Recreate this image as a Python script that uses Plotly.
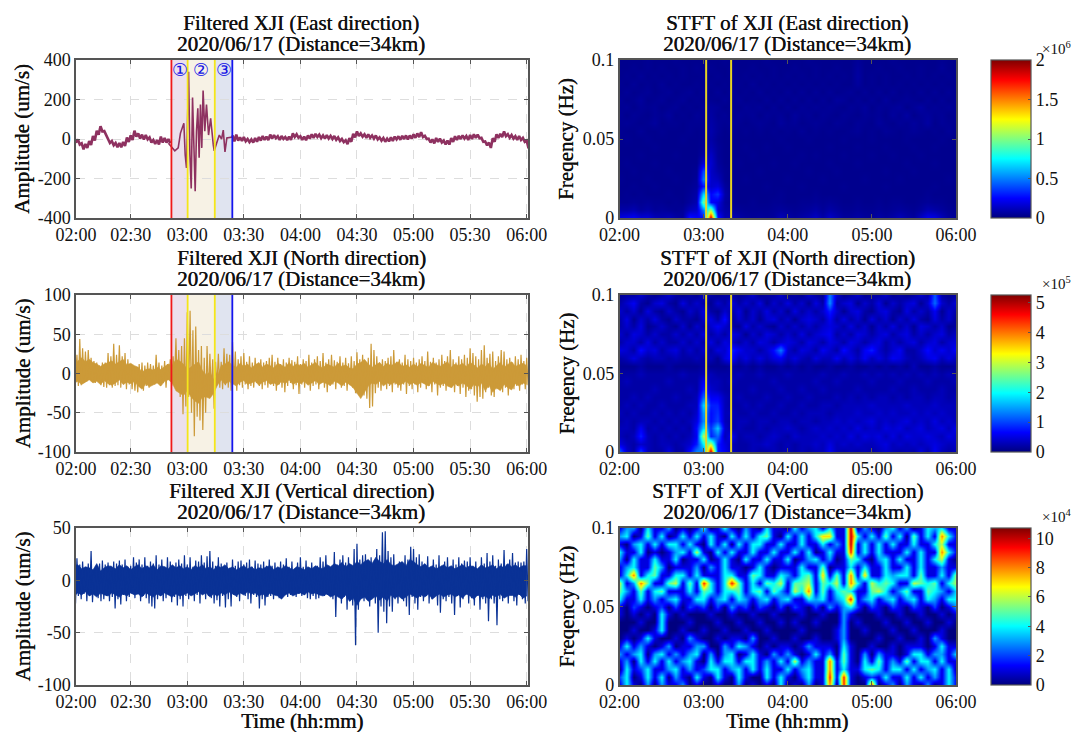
import plotly.graph_objects as go

W, H = 1077, 732
FONT = "Liberation Serif"

# ---------- tick labels ----------
left_tick_vals = [1, 30, 60, 90, 120, 150, 180, 210, 240]
left_tick_text = ["02:00", "02:30", "03:00", "03:30", "04:00", "04:30", "05:00", "05:30", "06:00"]
right_tick_vals = [0, 60, 120, 180, 240]
right_tick_text = ["02:00", "03:00", "04:00", "05:00", "06:00"]
freq_ticks = [0, 0.05, 0.1]
freq_text = ["0", "0.05", "0.1"]

# ---------- event boundaries (minutes after 02:00) ----------
zone_edges = [51.6, 60.2, 74.6, 83.9]
zone_line_colors = ["#f01818", "#f5e61a", "#f5e61a", "#1414ee"]
zone_fill_colors = ["rgba(135,60,135,0.16)", "rgba(200,160,70,0.14)", "rgba(60,90,160,0.16)"]
zone_labels = ["①", "②", "③"]
stft_marks = [61.8, 79.6]

# ---------- East waveform ----------
east_a_hi = [10,-2,-22,-25,-10,15,42,65,40,0,-10,-20,-20,-15,8,18,42,28,22,20,8,-5,-5,12,5,0]
east_a_lo = [-18,-28,-52,-45,-30,-8,22,38,18,-20,-32,-42,-42,-35,-15,-5,12,2,-2,-2,-18,-25,-28,-18,-18,-22]
event_t = [50,51.6,53.4,55.2,56.4,58.2,58.9,59.6,60.7,61.4,62.1,62.8,63.5,64.2,64.9,65.6,66.3,67,67.7,68.4,69.3,70.2,71.3,72.4,73.8,74.3,75.6,77,78.2,79.1,80,81,83.9,84]
event_y = [-22,-40,-60,-45,30,80,-80,-147,340,-80,-250,210,-60,-265,40,155,-95,175,-45,245,40,175,20,105,-30,-60,-20,20,0,45,-65,5,10,18]
east_b_hi = [18,22,8,10,0,-2,5,10,15,12,22,20,14,15,10,12,28,24,14,12,18,24,26,22,18,20,16,15,8,0,-6,4,26,38,28,24,24,18,18,8,5,2,8,12,14,16,18,18,24,28,35,16,2,-2,5,2,-8,-8,4,14,16,18,15,20,24,22,6,-12,-18,4,24,26,38,24,20,14,15,6,-8]
east_b_lo = [-12,-8,-10,-12,-16,-18,-14,-8,-5,-5,2,4,-4,0,-6,-4,10,6,-4,-6,2,6,10,4,2,2,0,-4,-10,-16,-26,-14,8,15,12,6,6,2,-2,-8,-14,-12,-10,-2,-4,0,-2,2,6,10,10,0,-18,-22,-15,-18,-28,-28,-15,-5,0,2,-5,0,6,4,-14,-32,-45,-14,6,10,14,6,2,-5,-5,-14,-48]

# ---------- North waveform (1.5 min spacing) ----------
north_hi = [14,24,44,32,28,30,20,16,14,10,
            14,14,26,22,38,24,36,22,26,18,
            10,6,4,12,14,10,14,12,10,24,
            14,10,16,12,18,22,
            45,30,35,45,78,80,55,60,30,35,20,35,25,18,15,25,15,32,25,24,40,
            28,18,22,26,15,22,14,20,12,18,
            14,16,20,24,15,20,12,18,14,20,
            17,15,22,12,18,16,24,14,18,22,
            16,26,14,18,24,17,15,22,14,20,
            13,22,16,27,18,24,15,20,38,30,
            22,14,18,16,20,22,30,15,18,14,
            24,18,16,20,14,18,22,16,28,15,
            20,14,18,24,16,22,30,18,14,22,
            18,24,20,32,26,22,18,30,36,20,
            25,28,16,22,30,28,18,20,14,22,
            18,24,16,20]
north_lo = [-10,-16,-15,-12,-10,-8,-10,-12,-6,-15,
            -17,-18,-15,-18,-16,-15,-18,-14,-20,-14,
            -20,-22,-24,-18,-22,-16,-18,-12,-14,-10,
            -16,-12,-18,-8,-16,-12,
            -20,-30,-52,-42,-30,-50,-80,-55,-60,-72,-50,-30,-25,-45,-15,-18,-20,-15,-18,-22,-12,
            -22,-15,-18,-14,-20,-16,-18,-12,-16,-20,
            -15,-18,-12,-16,-22,-14,-18,-24,-16,-12,
            -20,-15,-26,-14,-18,-12,-22,-16,-14,-20,
            -12,-18,-24,-16,-14,-20,-12,-18,-16,-22,
            -15,-18,-25,-20,-16,-28,-32,-44,-42,-25,
            -18,-22,-14,-20,-16,-24,-14,-18,-22,-14,
            -26,-16,-20,-14,-24,-18,-12,-20,-16,-24,
            -14,-28,-18,-16,-22,-15,-18,-24,-16,-26,
            -18,-30,-22,-20,-28,-36,-30,-32,-24,-18,
            -28,-30,-20,-16,-24,-18,-28,-14,-20,-16,
            -22,-14,-20,-15]
# dense body of the trace, read every 2 min
core_t = [0,2,4,6,8,10,12,14,16,18,20,22,24,26,28,30,32,34,36,38,40,42,44,46,48,50,52,54,56,58,60,62,64,66,68,70,72,74,76,78,80,82,84,86,88,90,92,94,96,98,100,102,104,106,108,110,112,114,116,118,120,122,124,126,128,130,132,134,136,138,140,142,144,146,148,150,152,154,156,158,160,162,164,166,168,170,172,174,176,178,180,182,184,186,188,190,192,194,196,198,200,202,204,206,208,210,212,214,216,218,220,222,224,226,228,230,232,234,236,238,240]
north_core_hi = [8,16,20,15,18,14,12,9,12,14,
                 16,12,15,18,11,13,10,8,2,5,
                 6,4,8,5,9,12,10,18,16,12,
                 5,8,12,15,4,-2,2,-8,-3,10,
                 12,15,10,8,13,9,12,7,11,14,
                 8,12,10,7,13,11,8,14,9,12,
                 10,13,8,11,14,9,7,12,10,8,
                 13,9,11,7,6,12,14,18,12,8,
                 11,14,9,13,10,12,15,9,11,8,
                 12,9,13,10,8,14,11,9,12,15,
                 8,12,10,13,9,14,11,7,12,9,
                 13,5,10,14,8,12,15,9,11,13,
                 10]
north_core_lo = [-12,-10,-14,-11,-8,-12,-10,-14,-9,-13,
                 -15,-12,-8,-14,-11,-13,-10,-16,-20,-13,
                 -17,-14,-12,-16,-10,-8,-12,-22,-25,-28,
                 -22,-30,-35,-38,-30,-30,-32,-25,-15,-8,
                 -14,-10,-13,-16,-11,-9,-14,-12,-10,-15,
                 -11,-9,-14,-12,-15,-10,-13,-8,-14,-11,
                 -13,-10,-15,-12,-9,-14,-11,-13,-15,-10,
                 -12,-16,-11,-14,-18,-25,-32,-24,-16,-12,
                 -14,-10,-16,-12,-14,-11,-15,-13,-10,-14,
                 -12,-15,-11,-14,-16,-10,-13,-15,-12,-16,
                 -18,-13,-16,-12,-15,-20,-14,-17,-12,-22,
                 -15,-24,-18,-22,-14,-18,-21,-13,-16,-12,
                 -14]

# ---------- Vertical waveform (1.5 min spacing) ----------
vert_hi = [20,21,15,18,12,16,28,10,14,16,
           19,15,17,14,18,16,19,15,20,13,
           14,22,17,20,15,22,14,18,16,24,
           15,20,13,22,18,14,17,20,16,24,
           15,22,13,19,18,24,17,23,28,18,
           14,22,16,13,17,12,20,14,18,19,
           15,17,20,13,19,16,15,18,14,20,
           14,17,12,18,15,21,13,18,10,17,
           22,13,19,12,17,10,14,22,18,24,
           14,12,27,15,20,24,17,22,12,30,
           35,20,24,25,18,22,16,30,24,46,
           47,28,22,25,14,18,14,24,20,32,
           30,22,25,18,15,23,13,20,15,24,
           14,18,22,12,20,15,22,16,19,18,
           22,14,18,12,22,16,26,18,24,14,
           20,16,29,15,20,26,17,18,17,18,
           30]
vert_lo = [-22,-15,-18,-13,-20,-15,-21,-14,-17,-20,
           -18,-15,-20,-16,-27,-18,-23,-14,-20,-16,
           -13,-17,-12,-20,-15,-17,-22,-25,-27,-18,
           -15,-20,-17,-14,-21,-16,-24,-18,-25,-15,
           -18,-12,-20,-14,-22,-12,-18,-15,-17,-22,
           -19,-25,-15,-26,-18,-25,-14,-16,-20,-13,
           -15,-18,-22,-14,-16,-27,-18,-24,-16,-15,
           -18,-14,-17,-15,-14,-16,-14,-12,-16,-13,
           -15,-14,-17,-18,-15,-18,-17,-14,-15,-14,
           -15,-18,-35,-14,-22,-16,-28,-20,-24,-62,
           -28,-15,-20,-18,-25,-15,-22,-50,-25,-30,
           -41,-25,-30,-18,-22,-15,-20,-25,-33,-16,
           -22,-28,-16,-20,-15,-22,-18,-14,-24,-31,
           -18,-20,-16,-22,-33,-15,-26,-18,-14,-22,
           -17,-24,-15,-28,-18,-22,-39,-18,-22,-43,
           -18,-20,-16,-22,-15,-20,-24,-14,-18,-22,
           -20]
vert_core_hi = [14,15,11,13,12,10,16,9,12,14,
                13,11,15,12,14,10,13,15,11,14,
                12,15,10,14,13,11,15,12,14,11,
                13,10,14,12,15,11,13,10,14,12,
                15,11,13,10,12,14,11,13,10,12,
                11,13,14,10,13,11,14,12,10,13,
                12,10,13,11,14,12,11,15,13,16,
                14,17,13,16,14,18,15,18,20,16,
                22,18,16,20,15,14,16,18,14,20,
                18,15,13,16,12,14,11,13,15,12,
                14,11,13,15,12,14,13,11,15,12,
                13,15,11,14,12,16,13,15,12,14,
                14]
vert_core_lo = [-15,-12,-14,-11,-15,-13,-16,-12,-14,-15,
                -12,-14,-16,-13,-15,-12,-14,-13,-16,-12,
                -14,-16,-13,-15,-12,-14,-16,-13,-15,-14,
                -12,-15,-13,-11,-14,-12,-16,-13,-15,-12,
                -14,-11,-13,-15,-12,-14,-11,-13,-12,-15,
                -13,-16,-12,-14,-15,-18,-14,-12,-15,-13,
                -12,-14,-11,-13,-12,-14,-15,-13,-16,-14,
                -16,-18,-14,-20,-17,-24,-18,-16,-20,-18,
                -15,-19,-16,-20,-14,-17,-15,-18,-16,-13,
                -15,-17,-14,-16,-13,-18,-15,-13,-16,-14,
                -13,-16,-14,-17,-13,-15,-18,-14,-16,-15,
                -18,-14,-16,-13,-17,-15,-14,-16,-13,-17,
                -15]

# ---------- STFT grids: rows from 0 Hz to 0.1 Hz, columns every 5 min ----------
stft_freq = [0,0.005,0.01,0.015,0.02,0.025,0.03,0.035,0.04,0.045,0.05,0.055,0.06,0.065,0.07,0.075,0.08,0.085,0.09,0.095,0.1]
stft_time = [0,5,10,15,20,25,30,35,40,45,50,55,60,65,70,75,80,85,90,95,100,105,110,115,120,125,130,135,140,145,150,155,160,165,170,175,180,185,190,195,200,205,210,215,220,225,230,235,240]

# East, in units of 1e4
stft_east = [
 [20,22,24,18,18,12,10,12,8,6, 30,25,25,190,30,10,12,8,6,5, 6,5,6,12,8,6,8,10,14,8, 15,10,6,6,8,6,5,8,6,8, 12,8,6,14,22,20,12,6,5],
 [8,8,10,6,8,5,6,5,4,5, 12,15,50,110,15,8,6,5,4,4, 4,4,5,6,5,4,5,6,8,5, 8,6,4,4,5,4,4,5,4,5, 6,5,4,6,10,8,6,4,4],
 [4,4,5,4,5,4,4,3,4,3, 6,10,100,25,20,6,4,3,3,4, 3,3,4,4,3,3,4,4,5,4, 5,4,3,3,4,3,3,4,3,4, 4,3,3,4,5,4,4,3,3],
 [3,4,3,4,3,3,3,4,3,3, 5,8,70,25,35,8,4,3,3,3, 3,3,3,4,3,3,3,3,4,3, 3,3,3,3,3,3,3,3,3,3, 3,3,3,3,4,3,3,3,3],
 [3,3,4,3,3,4,3,3,3,3, 4,6,30,15,18,6,3,3,3,3, 3,4,3,3,3,3,4,3,3,3, 3,3,4,3,3,3,3,3,4,3, 3,3,3,3,3,4,3,3,3],
 [4,3,3,3,4,3,3,3,4,3, 3,5,50,15,12,4,3,3,4,3, 3,3,3,3,4,3,3,3,3,4, 3,3,3,3,3,4,3,3,3,3, 4,3,3,3,3,3,3,4,3],
 [3,3,4,3,3,3,3,4,3,3, 3,4,40,14,8,4,3,3,3,3, 4,3,3,3,3,3,3,4,3,3, 3,4,3,3,3,3,3,3,4,3, 3,3,4,3,3,3,3,3,3],
 [3,4,3,3,3,4,3,3,3,3, 3,3,18,16,6,3,3,4,3,3, 3,3,4,3,3,4,3,3,3,3, 4,3,3,3,4,3,3,3,3,3, 3,4,3,3,3,4,3,3,3],
 [3,3,3,4,3,3,3,3,4,3, 3,3,8,14,5,3,3,3,3,4, 3,3,3,3,3,3,4,3,4,3, 3,3,4,3,3,3,4,3,3,4, 3,3,3,4,3,3,3,3,4],
 [3,3,3,3,3,4,3,3,3,3, 3,3,5,10,5,3,3,3,4,3, 3,4,3,3,4,3,3,3,3,3, 4,3,3,3,4,3,3,3,4,3, 3,3,4,3,3,4,3,3,3],
 [3,4,3,3,4,3,3,3,3,4, 3,3,4,8,4,3,3,3,3,3, 3,3,3,4,3,3,3,4,3,3, 3,3,4,3,3,3,4,3,3,3, 3,4,3,3,3,3,4,3,3],
 [4,3,3,5,3,3,4,3,3,3, 4,3,4,9,5,3,4,3,4,3, 4,3,4,3,4,3,5,3,4,3, 4,3,3,4,5,3,4,3,5,4, 3,4,5,4,3,4,3,5,3],
 [4,5,4,3,4,6,3,4,4,3, 4,4,4,8,5,4,5,4,3,4, 5,4,3,6,4,5,3,4,5,4, 3,5,4,3,5,4,3,6,4,3, 5,4,6,4,7,3,5,4,4],
 [5,3,5,4,3,5,4,6,3,4, 3,5,4,7,4,5,3,5,4,5, 3,5,4,5,3,6,4,5,3,5, 4,3,5,4,3,5,4,5,3,6, 4,7,3,5,6,4,5,3,5],
 [4,5,3,5,4,5,3,4,5,3, 4,3,5,6,5,3,4,3,5,4, 5,3,5,3,5,3,5,4,5,4, 5,4,3,5,4,6,3,5,4,5, 6,3,5,7,4,5,4,5,4],
 [5,3,4,6,3,4,5,3,4,5, 3,4,3,4,3,5,3,5,3,4, 3,5,3,5,3,5,3,5,3,5, 3,6,5,3,5,3,5,3,6,3, 4,5,4,3,5,3,5,3,5],
 [3,5,3,4,5,3,4,5,3,4, 5,3,5,3,5,3,5,3,4,3, 5,3,4,3,5,3,5,3,5,3, 5,3,4,5,3,5,3,5,3,5, 3,4,3,5,3,5,3,5,3],
 [4,3,5,3,4,3,5,3,4,3, 3,4,3,4,3,4,3,4,3,5, 3,4,3,4,3,4,3,4,3,4, 3,4,3,3,6,3,4,3,4,3, 4,3,4,3,4,3,4,3,4],
 [3,4,3,5,3,4,3,4,3,4, 3,3,4,3,4,3,4,3,4,3, 4,3,4,3,4,3,4,3,4,3, 4,3,4,3,7,3,4,3,4,3, 3,4,3,4,3,4,3,4,3],
 [3,3,4,3,4,3,4,3,3,4, 3,4,3,4,3,3,4,3,3,4, 3,3,4,3,3,4,3,3,4,3, 3,4,3,3,6,3,3,4,3,3, 4,3,3,4,3,3,5,3,3],
 [3,3,3,3,4,3,3,3,4,3, 3,3,3,3,3,4,3,3,3,3, 3,4,3,3,3,3,3,4,3,3, 3,3,3,3,5,3,3,3,3,4, 3,3,3,3,3,3,4,3,3],
]

# North, in units of 1e4
stft_north = [
 [12,4,2,10,3,2,2,5,2,2, 7,14,12,50,8,6,3,2,2,3, 2,2,3,2,3,2,3,2,3,3, 6,3,2,3,2,3,2,3,4,3, 2,3,2,5,2,6,3,2,3],
 [5,3,2,4,3,2,3,3,2,3, 4,8,20,30,8,5,3,2,2,3, 3,4,3,2,3,2,3,3,4,3, 5,3,4,3,4,3,3,4,5,3, 4,3,4,3,4,5,4,3,4],
 [3,2,3,8,3,2,3,2,3,2, 3,6,30,8,12,3,6,2,3,3, 2,3,4,3,2,4,3,3,3,4, 3,4,3,5,3,5,4,5,3,5, 3,5,4,4,5,4,3,5,4],
 [3,3,2,6,2,3,2,3,2,3, 2,7,18,9,17,4,2,3,2,2, 3,2,3,3,4,3,2,3,4,3, 4,3,4,3,5,3,4,3,5,4, 5,3,4,5,3,4,5,3,6],
 [2,3,2,3,3,2,3,2,3,2, 3,5,14,7,10,3,2,3,3,2, 3,3,2,3,3,2,3,3,2,3, 3,4,3,4,3,4,5,3,4,3, 4,5,3,4,3,5,3,4,3],
 [3,2,3,2,2,3,2,3,2,3, 2,4,15,7,9,3,3,2,2,3, 2,2,3,2,2,3,2,3,3,3, 2,3,3,3,4,3,3,4,3,4, 3,3,4,3,4,3,4,3,3],
 [2,3,2,3,2,2,3,2,2,2, 3,3,18,8,8,3,2,2,3,2, 3,2,2,3,2,2,3,2,2,3, 3,2,3,3,3,3,4,3,3,3, 3,4,3,3,3,4,3,3,3],
 [2,2,3,2,3,2,2,2,3,2, 2,3,12,6,6,3,2,3,2,2, 2,3,2,2,3,2,2,3,2,2, 2,3,2,3,2,3,2,3,3,2, 3,2,3,3,2,3,3,2,3],
 [2,2,2,2,2,3,2,2,2,2, 3,2,8,4,3,2,2,2,2,3, 2,2,2,3,2,2,3,2,2,3, 2,2,2,2,3,2,2,2,2,3, 2,2,3,2,2,2,3,2,2],
 [2,3,2,2,2,2,2,3,2,2, 2,2,6,3,3,2,3,2,2,2, 2,2,3,2,2,2,2,2,3,2, 2,3,2,2,2,2,3,2,2,2, 3,2,2,2,3,2,2,2,3],
 [2,2,2,3,2,2,2,2,2,3, 2,2,3,3,2,2,2,3,2,2, 3,2,2,2,3,2,2,2,2,3, 2,2,3,2,2,3,2,3,2,3, 2,3,2,3,2,3,2,3,2],
 [1,1,1,2,1,1,1,2,1,1, 1,1,2,1,1,1,2,1,2,1, 2,1,1,2,1,2,1,2,1,1, 2,1,1,2,1,1,2,1,2,1, 2,1,3,1,1,2,1,1,2],
 [2,3,5,3,2,3,3,2,3,2, 2,3,2,3,1,5,7,3,5,3, 5,3,5,6,3,5,3,2,5,3, 3,6,3,5,3,6,3,5,3,6, 5,3,2,3,5,6,3,5,3],
 [5,4,2,7,4,5,2,4,5,2, 4,2,4,2,5,4,8,6,4,4, 2,4,7,13,4,2,5,4,2,6, 4,2,7,4,2,6,8,4,2,4, 6,2,2,4,7,4,6,4,7],
 [2,4,4,2,5,2,4,2,2,4, 2,4,2,5,2,5,4,2,4,2, 5,4,2,4,5,4,2,5,4,2, 5,4,2,5,4,2,4,5,2,4, 2,4,5,2,4,5,2,4,5],
 [4,2,5,4,2,4,2,2,4,2, 4,2,5,2,4,2,5,4,1,4, 2,5,4,2,4,2,5,2,4,5, 6,2,4,2,5,4,2,4,5,2, 4,5,2,4,2,4,5,2,4],
 [2,4,2,5,1,2,4,2,1,4, 1,4,2,4,6,4,2,1,5,2, 4,2,1,4,2,4,2,4,2,4, 5,4,2,5,2,4,1,4,2,5, 2,4,1,5,4,2,4,1,2],
 [2,5,1,4,2,5,2,1,4,2, 2,1,4,5,2,7,1,4,2,4, 1,4,5,2,4,1,4,5,4,2, 6,2,5,2,4,1,5,2,4,1, 4,2,5,2,1,5,2,4,1],
 [4,2,4,1,5,2,1,4,2,1, 4,2,5,2,1,4,2,5,1,4, 2,5,2,4,1,5,2,4,2,4, 8,4,1,4,5,2,1,4,5,2, 1,5,2,4,2,6,1,4,2],
 [2,4,6,2,1,4,5,2,1,5, 2,4,2,1,4,2,5,2,4,2, 5,1,4,2,5,2,4,1,5,2, 14,2,4,5,1,4,2,5,1,4, 2,4,5,1,4,12,4,2,5],
 [1,2,2,4,2,1,2,4,2,1, 2,1,4,2,1,2,2,1,2,4, 1,2,2,4,1,2,1,4,2,1, 13,4,1,2,4,1,2,2,4,1, 2,1,2,4,2,11,2,1,2],
]

# Vertical, in units of 1e4
stft_vert = [
 [1,4,1,0,3,0,3,1,1,3, 0,1,0,0,1,0,0,3,0,1, 0,1,0,4,0,1,0,3,0,1, 8,0,9,1,0,0,9,0,1,3, 0,3,1,0,3,0,1,4,1],
 [2,4,0,1,4,1,4,0,3,1, 0,4,1,0,4,1,0,4,1,0, 0,4,1,4,1,0,2,4,1,1, 9,1,9,1,0,1,2,1,4,1, 1,4,1,4,1,3,1,4,1],
 [0,4,1,2,4,1,1,3,4,1, 3,1,2,4,4,1,3,4,1,4, 1,4,1,1,4,1,3,4,1,1, 8,1,4,1,1,4,5,4,1,4, 4,1,4,1,3,4,1,4,0],
 [1,3,0,4,1,4,1,4,1,3, 4,1,0,4,1,4,4,1,4,4, 1,3,1,4,1,6,1,3,1,1, 8,1,5,1,0,4,1,5,1,3, 1,5,1,4,4,1,4,1,1],
 [3,1,3,4,0,3,4,1,3,1, 3,4,0,3,0,3,4,0,1,4, 1,0,3,1,3,1,0,1,4,1, 3,0,5,1,0,3,0,3,1,1, 0,1,4,4,1,3,3,1,4],
 [1,4,1,3,1,0,1,3,0,1, 1,3,3,0,0,3,1,4,3,1, 0,1,0,1,1,0,1,3,1,1, 1,0,4,1,0,0,1,0,0,1, 0,1,1,1,0,1,4,1,1],
 [0,1,0,1,4,1,0,0,1,0, 3,1,0,0,1,0,1,1,0,3, 0,0,1,0,0,1,0,0,1,0, 0,1,3,0,0,0,0,1,0,0, 1,0,0,1,0,3,1,0,0],
 [0,0,1,0,0,1,4,0,0,1, 0,0,1,0,0,1,0,0,1,0, 0,1,0,0,0,0,1,0,0,0, 0,1,3,0,0,1,0,0,0,1, 0,0,1,0,0,0,1,0,0],
 [0,0,0,1,0,0,4,0,0,0, 1,0,0,0,1,0,0,1,0,0, 1,0,0,1,0,1,0,0,1,0, 0,0,3,0,1,0,0,0,1,0, 0,1,0,0,1,0,0,1,0],
 [1,0,1,0,1,0,4,1,0,1, 0,0,0,1,0,0,1,0,0,1, 0,0,1,0,0,0,1,0,0,1, 0,0,3,1,0,0,0,1,0,0, 1,0,0,1,0,0,1,0,1],
 [1,0,2,1,0,1,2,0,2,0, 2,1,2,0,2,0,3,1,2,0, 2,1,0,2,0,2,1,0,2,0, 3,1,3,4,2,0,2,1,0,2, 1,0,2,1,0,2,0,1,3],
 [4,1,1,4,1,3,1,3,4,1, 1,4,4,1,3,4,1,4,3,1, 3,4,1,3,4,1,1,4,3,4, 1,3,4,9,1,3,4,1,3,4, 1,3,4,1,4,3,1,4,4],
 [5,3,1,5,1,4,5,1,1,1, 4,1,5,4,1,4,4,5,1,4, 5,1,5,3,1,6,4,8,1,5, 1,4,5,4,1,1,5,6,4,1, 3,5,1,1,5,4,3,1,4],
 [6,1,3,8,5,1,1,5,6,1, 5,1,9,4,1,4,9,5,1,4, 1,5,4,6,1,5,5,6,1,5, 4,6,1,8,4,1,6,4,5,4, 1,1,6,5,4,5,1,4,6],
 [1,4,8,1,4,5,1,1,4,4, 1,4,1,1,1,4,4,1,1,5, 4,1,1,4,3,1,4,5,1,7, 1,5,1,8,1,7,1,1,4,3, 4,4,1,5,1,1,4,1,6],
 [1,3,4,1,1,5,3,0,1,1, 1,3,0,3,1,4,1,1,0,1, 4,1,0,1,1,1,4,1,1,5, 0,1,1,4,1,4,1,1,4,1, 1,4,1,4,1,1,3,1,1],
 [3,0,4,1,1,4,1,1,4,0, 1,1,4,0,1,4,1,0,4,1, 1,4,1,1,4,0,1,3,4,1, 3,0,1,5,4,1,0,3,4,1, 4,1,1,4,1,4,6,1,0],
 [4,1,1,4,0,1,0,1,3,4, 1,6,1,0,4,1,4,1,1,4, 1,1,4,1,1,4,1,4,0,1, 4,1,1,9,1,4,1,4,1,1, 1,4,1,4,1,1,8,4,1],
 [1,0,3,4,1,4,1,4,4,1, 4,1,0,4,1,4,0,4,1,4, 4,1,1,4,1,1,4,1,1,4, 1,3,1,10,1,4,1,4,1,4, 1,1,4,1,1,4,6,1,1],
 [3,4,0,1,5,1,4,0,1,4, 1,4,1,4,1,0,4,1,4,1, 4,5,1,0,4,1,4,1,4,7, 7,1,1,10,4,1,4,1,5,1, 4,0,5,1,4,1,8,4,1],
 [1,3,3,0,4,1,1,3,0,1, 0,1,4,0,1,4,1,0,3,1, 0,4,1,1,0,4,1,3,4,1, 4,1,1,10,0,3,1,0,3,4, 1,3,0,1,4,3,4,1,1],
]

# ---------- colour bars ----------
bar_east = dict(zmax=200, vals=[0,50,100,150,200], text=["0","0.5","1","1.5","2"], exp="6")
bar_north = dict(zmax=52.5, vals=[0,10,20,30,40,50], text=["0","1","2","3","4","5"], exp="5")
bar_vert = dict(zmax=10.7, vals=[0,2,4,6,8,10], text=["0","2","4","6","8","10"], exp="4")

titles_left = ["Filtered XJI (East direction)", "Filtered XJI (North direction)", "Filtered XJI (Vertical direction)"]
titles_right = ["STFT of XJI (East direction)", "STFT of XJI (North direction)", "STFT of XJI (Vertical direction)"]
subtitle = "2020/06/17 (Distance=34km)"

jet = [[0,"#00007f"],[0.125,"#0000ff"],[0.375,"#00ffff"],[0.625,"#ffff00"],[0.875,"#ff0000"],[1,"#7f0000"]]


def zigzag(start, step, hi, lo):
    xs, ys = [], []
    for i, (a, b) in enumerate(zip(hi, lo)):
        xs += [start + i * step, start + (i + 0.5) * step]
        ys += [a, b]
    return xs, ys


xa, ya = zigzag(0, 2, east_a_hi, east_a_lo)
xb, yb = zigzag(84, 2, east_b_hi, east_b_lo)
north_x, north_y = zigzag(0, 1.5, north_hi, north_lo)
vert_x, vert_y = zigzag(0, 1.5, vert_hi, vert_lo)

rows_px = [(60, 218), (295, 452), (528, 685)]
left_px = (76, 528)
right_px = (619.5, 956)
bar_px = 991
bar_w = 40
AXC = "#555555"
TXT = "#111111"
HEAVY = dict(family=FONT, size=21, color=TXT, shadow="0.4px 0 0 #111111")

fig = go.Figure()
fig.update_layout(width=W, height=H, margin=dict(l=0, r=0, t=0, b=0, autoexpand=False), paper_bgcolor="white",
                  plot_bgcolor="white", showlegend=False, font=dict(family=FONT, size=18, color=TXT))

# each panel: list of (x, y, width) line parts
series = [([(xa, ya, 2.6), (event_t, event_y, 1.6), (xb, yb, 2.6)], "#8e3160", [-400, 400], [-400,-200,0,200,400], None, None),
          ([(north_x, north_y, 1.2)], "#cc9a38", [-100, 100], [-100,-50,0,50,100], north_core_hi, north_core_lo),
          ([(vert_x, vert_y, 1.2)], "#0a3296", [-100, 50], [-100,-50,0,50], vert_core_hi, vert_core_lo)]
stfts = [(stft_east, bar_east), (stft_north, bar_north), (stft_vert, bar_vert)]

ann = []
shapes = []
for r, (top, bot) in enumerate(rows_px):
    dom_y = [1 - bot / H, 1 - top / H]
    n = r * 2 + 1
    xl, yl = ("x", "y") if n == 1 else (f"x{n}", f"y{n}")
    xr, yr = f"x{n+1}", f"y{n+1}"
    parts, col, yrange, yticks, chi, clo = series[r]
    if chi:
        fig.add_trace(go.Scatter(x=core_t + core_t[::-1], y=chi + clo[::-1], mode="lines", fill="toself", fillcolor=col,
                                 line=dict(color=col, width=0.6), xaxis=xl, yaxis=yl, hoverinfo="skip"))
    for lx, ly, lw in parts:
        fig.add_trace(go.Scatter(x=lx, y=ly, mode="lines", line=dict(color=col, width=lw), xaxis=xl, yaxis=yl, hoverinfo="skip"))
    common = dict(showline=True, mirror="allticks", linecolor=AXC, linewidth=1.5, ticks="inside", ticklen=4,
                  tickcolor=AXC, tickfont=dict(family=FONT, size=18, color=TXT), zeroline=False)
    fig.update_layout({
        f"xaxis{n}": dict(domain=[left_px[0]/W, left_px[1]/W], range=[1, 240.7], anchor=yl, tickmode="array",
                          tickvals=left_tick_vals, ticktext=left_tick_text, showgrid=True, gridcolor="#dddddd",
                          griddash="dash", gridwidth=1.3, **common),
        f"yaxis{n}": dict(domain=dom_y, range=yrange, anchor=xl, tickmode="array", tickvals=yticks,
                          ticktext=[str(v) for v in yticks],
                          showgrid=True, gridcolor="#dddddd", griddash="dash", gridwidth=1.3, **common),
        f"xaxis{n+1}": dict(domain=[right_px[0]/W, right_px[1]/W], range=[0, 240], anchor=yr, tickmode="array",
                            tickvals=right_tick_vals, ticktext=right_tick_text, showgrid=False, **common),
        f"yaxis{n+1}": dict(domain=dom_y, range=[0, 0.1], anchor=xr, tickmode="array", tickvals=freq_ticks,
                            ticktext=freq_text, showgrid=False, **common),
    })
    z, bar = stfts[r]
    fig.add_trace(go.Heatmap(x=stft_time, y=stft_freq, z=z, zmin=0, zmax=bar["zmax"], colorscale=jet, zsmooth="best",
                             xaxis=xr, yaxis=yr, hoverinfo="skip",
                             colorbar=dict(x=bar_px/W, xanchor="left", xpad=0, ypad=0, thickness=bar_w, thicknessmode="pixels",
                                           lenmode="fraction", len=(bot-top)/H, y=1-bot/H, yanchor="bottom",
                                           tickmode="array", tickvals=bar["vals"], ticktext=bar["text"], ticks="inside",
                                           ticklen=3, tickcolor=AXC, outlinecolor=AXC, outlinewidth=1.2,
                                           tickfont=dict(family=FONT, size=18, color=TXT))))
    # panel texts
    lc = (left_px[0] + left_px[1]) / 2 - 1
    rc = 787
    for cx, t in ((lc, titles_left[r]), (rc, titles_right[r])):
        ann.append(dict(x=cx/W, y=1-(top-37)/H, xref="paper", yref="paper", text=t, showarrow=False,
                        font=HEAVY, xanchor="center", yanchor="middle"))
        ann.append(dict(x=cx/W, y=1-(top-16)/H, xref="paper", yref="paper", text=subtitle, showarrow=False,
                        font=HEAVY, xanchor="center", yanchor="middle"))
    cy = (top + bot) / 2
    ann.append(dict(x=22/W, y=1-cy/H, xref="paper", yref="paper", text="Amplitude (um/s)", textangle=-90,
                    showarrow=False, font=HEAVY, xanchor="center", yanchor="middle"))
    ann.append(dict(x=566/W, y=1-cy/H, xref="paper", yref="paper", text="Freqency (Hz)", textangle=-90,
                    showarrow=False, font=HEAVY, xanchor="center", yanchor="middle"))
    ann.append(dict(x=1056/W, y=1-(top-12)/H, xref="paper", yref="paper", text=f"×10<sup>{bar['exp']}</sup>",
                    showarrow=False, font=dict(family=FONT, size=15, color=TXT), xanchor="center", yanchor="middle"))
    # event zones in the first two rows
    if r < 2:
        for i in range(3):
            shapes.append(dict(type="rect", xref=xl, yref=f"{yl} domain", x0=zone_edges[i], x1=zone_edges[i+1], y0=0, y1=1,
                               fillcolor=zone_fill_colors[i], line_width=0, layer="below"))
        for e, c in zip(zone_edges, zone_line_colors):
            shapes.append(dict(type="line", xref=xl, yref=f"{yl} domain", x0=e, x1=e, y0=0, y1=1, line=dict(color=c, width=1.8)))
        for m in stft_marks:
            shapes.append(dict(type="line", xref=xr, yref=f"{yr} domain", x0=m, x1=m, y0=0, y1=1, line=dict(color="#e6d422", width=2)))
    if r == 0:
        for i, lab in enumerate(zone_labels):
            ann.append(dict(x=(zone_edges[i]+zone_edges[i+1])/2, y=353, xref=xl, yref=yl, text=lab, showarrow=False,
                            font=dict(family="DejaVu Sans", size=18, color="#1212e6")))

for cx in ((left_px[0]+left_px[1])/2, 787):
    ann.append(dict(x=cx/W, y=1-720.5/H, xref="paper", yref="paper", text="Time (hh:mm)", showarrow=False,
                    font=HEAVY, xanchor="center", yanchor="middle"))

fig.update_layout(annotations=ann, shapes=shapes)
fig.write_html("out.html", config=dict(displayModeBar=False),
               post_script="document.body.style.margin='0';document.body.style.overflow='hidden';")
